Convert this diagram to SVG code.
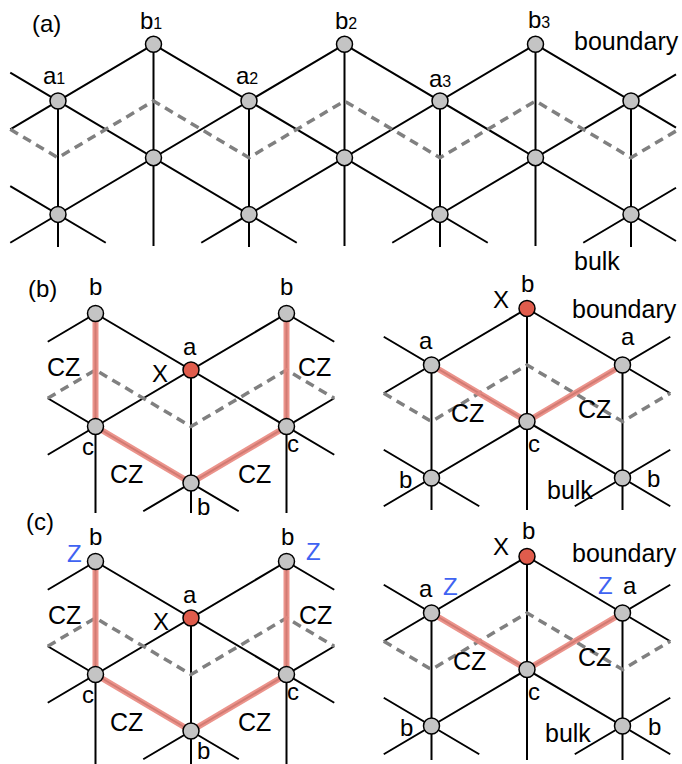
<svg xmlns="http://www.w3.org/2000/svg" width="682" height="764" viewBox="0 0 682 764">
<style>
.ln{stroke:#000;stroke-width:2;fill:none}
.ds{stroke:#808080;stroke-width:3.5;stroke-dasharray:9 6;fill:none}
.pk{stroke:#e9877e;stroke-width:6;fill:none;stroke-linejoin:round;opacity:0.9}
.nd{fill:#c4c4c4;stroke:#000;stroke-width:1.5}
.nr{fill:#e05c4c;stroke:#000;stroke-width:1.5}
text{font-family:"Liberation Sans",Arial,sans-serif;font-size:24px;fill:#000}
.big{font-size:25px}
.sub{font-size:16px}
.z{fill:#3f63f2}
</style>
<rect width="682" height="764" fill="#fff"/>
<g id="connectors">
<g id="lattice-a">
<path class="ln" d="M10.25,72.65 L296.75,242.75 M153.5,44.3 L487.75,242.75 M344.5,44.3 L676,241 M535.5,44.3 L676,127.6 M10.25,186.05 L105.75,242.75 M10.25,129.35 L153.5,44.3 M10.25,242.75 L344.5,44.3 M201.25,242.75 L535.5,44.3 M392.25,242.75 L676,74.35 M583.25,242.75 L676,187.75 M58,101V247 M153.5,44.3V246 M249,101V247 M344.5,44.3V246 M440,101V247 M535.5,44.3V246 M631,101V247"/>
<path class="ds" d="M10.25,129.35 L58,157.7 L153.5,101 L249,157.7 L344.5,101 L440,157.7 L535.5,101 L631,157.7 L676,131"/>
</g>
<g id="lattice-b-left">
<path class="ln" d="M95.5,313.5 L334.25,454.75 M47.75,398.25 L238.75,511.25 M286.5,313.5 L334.25,341.75 M286.5,313.5 L47.75,454.75 M95.5,313.5 L47.75,341.75 M143.25,511.25 L334.25,398.25 M95.5,313.5V513 M191,370V513 M286.5,313.5V513"/>
<path class="ds" d="M47.75,398.25 L95.5,370 L191,426.5 L286.5,370 L334.25,398.25"/>
<path class="pk" d="M95.5,313.5 V426.5 L191,483 L286.5,426.5 V313.5"/>
</g>
<g id="lattice-b-right">
<path class="ln" d="M383.75,336.75 L670.25,506.25 M527,308.5 L670.25,393.25 M383.75,449.75 L479.25,506.25 M383.75,393.25 L527,308.5 M383.75,506.25 L670.25,336.75 M574.75,506.25 L670.25,449.75 M431.5,365V510 M527,308.5V510 M622.5,365V510"/>
<path class="ds" d="M383.75,393.25 L431.5,421.5 L527,365 L622.5,421.5 L670.25,393.25"/>
<path class="pk" d="M431.5,365 L527,421.5 L622.5,365"/>
</g>
<g id="lattice-c-left">
<path class="ln" d="M95.5,561.5 L334.25,702.75 M47.75,646.25 L238.75,759.25 M286.5,561.5 L334.25,589.75 M286.5,561.5 L47.75,702.75 M95.5,561.5 L47.75,589.75 M143.25,759.25 L334.25,646.25 M95.5,561.5V764 M191,618V764 M286.5,561.5V764"/>
<path class="ds" d="M47.75,646.25 L95.5,618 L191,674.5 L286.5,618 L334.25,646.25"/>
<path class="pk" d="M95.5,561.5 V674.5 L191,731 L286.5,674.5 V561.5"/>
</g>
<g id="lattice-c-right">
<path class="ln" d="M383.75,584.75 L670.25,754.25 M527,556.5 L670.25,641.25 M383.75,697.75 L479.25,754.25 M383.75,641.25 L527,556.5 M383.75,754.25 L670.25,584.75 M574.75,754.25 L670.25,697.75 M431.5,613V760 M527,556.5V760 M622.5,613V760"/>
<path class="ds" d="M383.75,641.25 L431.5,669.5 L527,613 L622.5,669.5 L670.25,641.25"/>
<path class="pk" d="M431.5,613 L527,669.5 L622.5,613"/>
</g>
</g>
<g id="nodes-a">
<g id="a-b1"><circle class="nd" cx="153.5" cy="44.3" r="8"/></g>
<g id="a-b2"><circle class="nd" cx="344.5" cy="44.3" r="8"/></g>
<g id="a-b3"><circle class="nd" cx="535.5" cy="44.3" r="8"/></g>
<g id="a-a1"><circle class="nd" cx="58" cy="101" r="8"/></g>
<g id="a-a2"><circle class="nd" cx="249" cy="101" r="8"/></g>
<g id="a-a3"><circle class="nd" cx="440" cy="101" r="8"/></g>
<g id="a-a4"><circle class="nd" cx="631" cy="101" r="8"/></g>
<g id="a-m1"><circle class="nd" cx="153.5" cy="157.7" r="8"/></g>
<g id="a-m2"><circle class="nd" cx="344.5" cy="157.7" r="8"/></g>
<g id="a-m3"><circle class="nd" cx="535.5" cy="157.7" r="8"/></g>
<g id="a-l1"><circle class="nd" cx="58" cy="214.4" r="8"/></g>
<g id="a-l2"><circle class="nd" cx="249" cy="214.4" r="8"/></g>
<g id="a-l3"><circle class="nd" cx="440" cy="214.4" r="8"/></g>
<g id="a-l4"><circle class="nd" cx="631" cy="214.4" r="8"/></g>
</g>
<g id="nodes-bl">
<g id="bl-b1"><circle class="nd" cx="95.5" cy="313.5" r="8"/></g>
<g id="bl-b2"><circle class="nd" cx="286.5" cy="313.5" r="8"/></g>
<g id="bl-a"><circle class="nr" cx="191" cy="370" r="8"/></g>
<g id="bl-c1"><circle class="nd" cx="95.5" cy="426.5" r="8"/></g>
<g id="bl-c2"><circle class="nd" cx="286.5" cy="426.5" r="8"/></g>
<g id="bl-b3"><circle class="nd" cx="191" cy="483" r="8"/></g>
</g>
<g id="nodes-br">
<g id="br-b"><circle class="nr" cx="527" cy="308.5" r="8"/></g>
<g id="br-a1"><circle class="nd" cx="431.5" cy="365" r="8"/></g>
<g id="br-a2"><circle class="nd" cx="622.5" cy="365" r="8"/></g>
<g id="br-c"><circle class="nd" cx="527" cy="421.5" r="8"/></g>
<g id="br-b1"><circle class="nd" cx="431.5" cy="478" r="8"/></g>
<g id="br-b2"><circle class="nd" cx="622.5" cy="478" r="8"/></g>
</g>
<g id="nodes-cl">
<g id="cl-b1"><circle class="nd" cx="95.5" cy="561.5" r="8"/></g>
<g id="cl-b2"><circle class="nd" cx="286.5" cy="561.5" r="8"/></g>
<g id="cl-a"><circle class="nr" cx="191" cy="618" r="8"/></g>
<g id="cl-c1"><circle class="nd" cx="95.5" cy="674.5" r="8"/></g>
<g id="cl-c2"><circle class="nd" cx="286.5" cy="674.5" r="8"/></g>
<g id="cl-b3"><circle class="nd" cx="191" cy="731" r="8"/></g>
</g>
<g id="nodes-cr">
<g id="cr-b"><circle class="nr" cx="527" cy="556.5" r="8"/></g>
<g id="cr-a1"><circle class="nd" cx="431.5" cy="613" r="8"/></g>
<g id="cr-a2"><circle class="nd" cx="622.5" cy="613" r="8"/></g>
<g id="cr-c"><circle class="nd" cx="527" cy="669.5" r="8"/></g>
<g id="cr-b1"><circle class="nd" cx="431.5" cy="726" r="8"/></g>
<g id="cr-b2"><circle class="nd" cx="622.5" cy="726" r="8"/></g>
</g>
<g id="labels-a">
<text x="32" y="32">(a)</text>
<text x="140" y="29">b<tspan class="sub">1</tspan></text>
<text x="335" y="29">b<tspan class="sub">2</tspan></text>
<text x="528" y="28">b<tspan class="sub">3</tspan></text>
<text x="43" y="84">a<tspan class="sub">1</tspan></text>
<text x="236" y="84">a<tspan class="sub">2</tspan></text>
<text x="429" y="87">a<tspan class="sub">3</tspan></text>
<text class="big" x="574" y="50">boundary</text>
<text class="big" x="574" y="270">bulk</text>
</g>
<g id="labels-b">
<text x="28" y="297">(b)</text>
<text x="89" y="295">b</text>
<text x="280" y="295">b</text>
<text x="183" y="355">a</text>
<text x="152" y="382">X</text>
<text class="big" x="47" y="376">CZ</text>
<text class="big" x="298" y="376">CZ</text>
<text x="82" y="455">c</text>
<text x="287" y="452">c</text>
<text class="big" x="110" y="483">CZ</text>
<text class="big" x="238" y="483">CZ</text>
<text x="197" y="515">b</text>
<text x="493" y="308">X</text>
<text x="521" y="292">b</text>
<text class="big" x="572" y="318">boundary</text>
<text x="419" y="349">a</text>
<text x="621" y="345">a</text>
<text class="big" x="451" y="422">CZ</text>
<text class="big" x="578" y="418">CZ</text>
<text x="528" y="452">c</text>
<text x="399" y="488">b</text>
<text x="647" y="487">b</text>
<text class="big" x="547" y="499">bulk</text>
</g>
<g id="labels-c">
<text x="26" y="530">(c)</text>
<text x="89" y="545">b</text>
<text class="z" x="67" y="562">Z</text>
<text x="281" y="545">b</text>
<text class="z" x="306" y="560">Z</text>
<text x="183" y="603">a</text>
<text x="153" y="630">X</text>
<text class="big" x="48" y="624">CZ</text>
<text class="big" x="299" y="624">CZ</text>
<text x="82" y="703">c</text>
<text x="287" y="700">c</text>
<text class="big" x="110" y="731">CZ</text>
<text class="big" x="238" y="731">CZ</text>
<text x="197" y="759">b</text>
<text x="522" y="539">b</text>
<text x="493" y="555">X</text>
<text class="big" x="572" y="562">boundary</text>
<text x="419" y="597">a</text>
<text class="z" x="443" y="595">Z</text>
<text class="z" x="598" y="594">Z</text>
<text x="623" y="594">a</text>
<text class="big" x="453" y="670">CZ</text>
<text class="big" x="578" y="666">CZ</text>
<text x="528" y="700">c</text>
<text x="400" y="736">b</text>
<text x="648" y="735">b</text>
<text class="big" x="545" y="742">bulk</text>
</g>
</svg>
